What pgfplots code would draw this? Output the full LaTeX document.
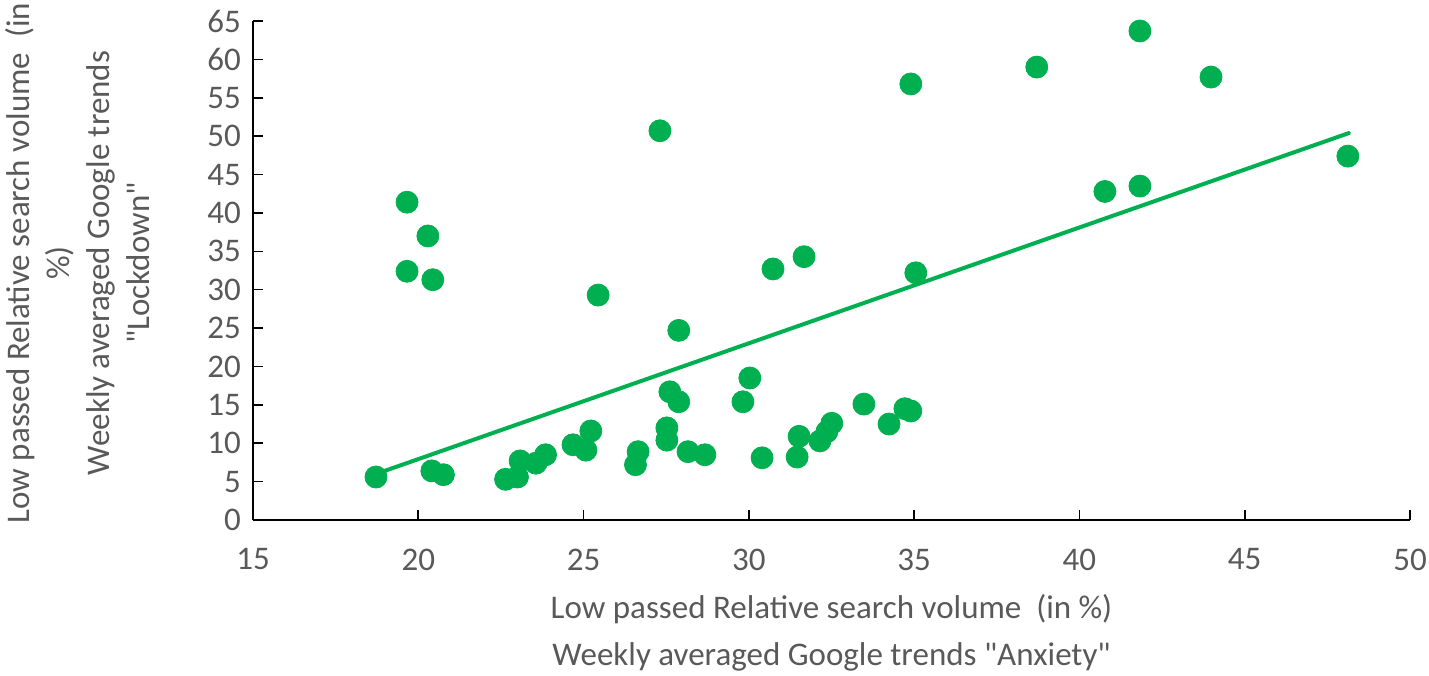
\documentclass[border=0pt]{standalone}
\usepackage{pgfplots}
\pgfplotsset{compat=1.18}
\usepackage{fontspec}
\setmainfont{Carlito}
\definecolor{grn}{HTML}{00B050}
\definecolor{txt}{HTML}{595959}
\pgfplotstableread{
x y
18.72 5.6
19.66 41.4
19.66 32.4
20.29 37.0
20.44 31.3
20.41 6.4
20.76 5.9
22.64 5.3
23.00 5.6
23.08 7.7
23.56 7.4
23.85 8.5
24.68 9.8
25.07 9.1
25.22 11.6
25.44 29.3
26.57 7.2
26.65 8.9
27.31 50.7
27.52 12.0
27.52 10.4
27.61 16.7
27.88 15.4
27.88 24.7
28.16 8.9
28.67 8.5
29.82 15.4
30.03 18.5
30.40 8.1
30.73 32.7
31.46 8.2
31.52 10.9
31.67 34.3
32.15 10.3
32.36 11.5
32.51 12.6
33.48 15.1
34.24 12.5
34.72 14.5
34.90 14.2
34.90 56.8
35.05 32.2
38.71 59.0
40.77 42.8
41.83 43.5
41.83 63.7
43.98 57.7
48.12 47.4
}\datatable
\begin{document}
\begin{tikzpicture}
\useasboundingbox (-126.5pt,-77.5pt) rectangle (588pt,260pt);
\begin{axis}[
 at={(0,0)}, anchor=south west,
 scale only axis, width=578.5pt, height=249.5pt,
 xmin=15, xmax=50, ymin=0, ymax=65,
 xtick={15,20,...,50}, ytick={0,5,...,65},
 axis lines*=left,
 axis line style={black, line width=1pt},
 tick style={black, line width=0.8pt},
 tick align=inside,
 major tick length=5pt,
 /pgf/number format/assume math mode=true,
 ticklabel style={font=\fontsize{16.5}{20}\selectfont, text=txt},
 xticklabel style={yshift=-10.8pt},
 yticklabel style={xshift=-2.5pt},
 clip=false,
]
\addplot[only marks, mark=*, mark size=5.5pt, color=grn, mark options={draw=grn, fill=grn}] table {\datatable};
\addplot[grn, line width=2pt, no marks, line cap=round] coordinates {(18.72,6.0) (48.15,50.4)};
\end{axis}
\node[font=\fontsize{16.5}{20}\selectfont, text=txt] at (289.25pt,-44.5pt) {Low passed Relative search volume\ \ (in \%)};
\node[font=\fontsize{16.5}{20}\selectfont, text=txt] at (289.25pt,-68.5pt) {Weekly averaged Google trends \textquotedbl Anxiety\textquotedbl};
\node[font=\fontsize{16.5}{20}\selectfont, text=txt, rotate=90, align=center] at (-87.75pt,128.5pt) {Low passed Relative search volume\ \ (in\\ \%)\\ Weekly averaged Google trends\\ \textquotedbl Lockdown\textquotedbl};
\end{tikzpicture}
\end{document}
